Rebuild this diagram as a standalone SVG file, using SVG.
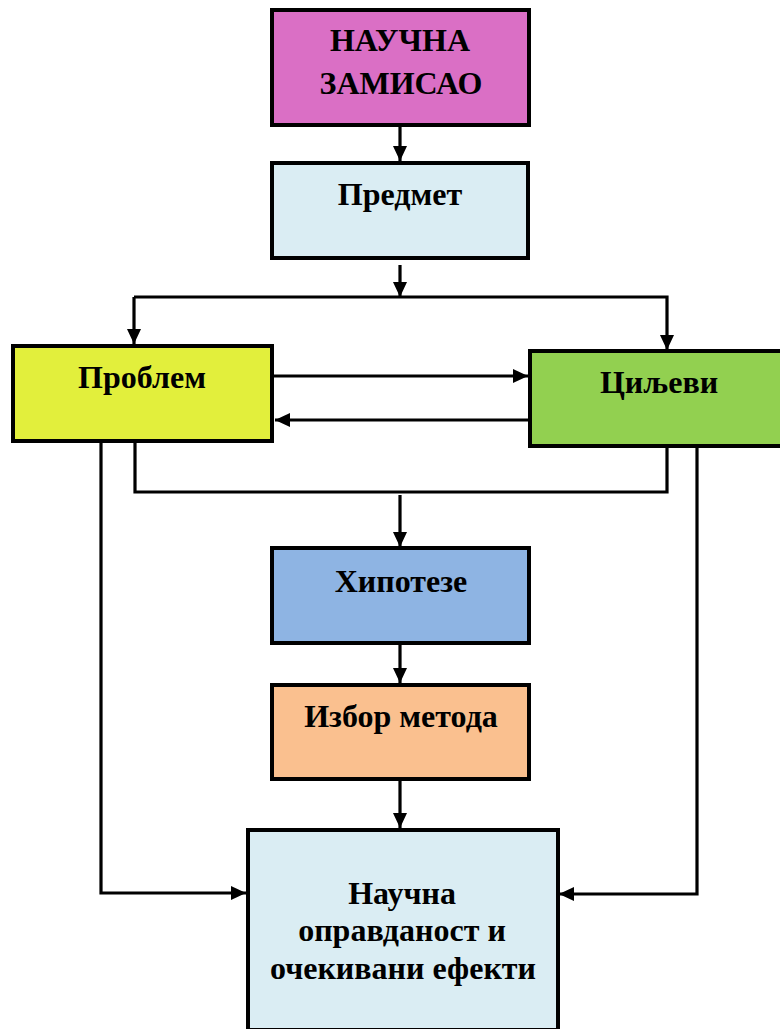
<svg xmlns="http://www.w3.org/2000/svg" width="780" height="1029" viewBox="0 0 780 1029">
<style>
.box{stroke:#000;stroke-width:4}
.t{font-family:"Liberation Serif","Times New Roman",serif;font-weight:bold;font-size:32px;fill:#000;text-anchor:middle}
.c{fill:none;stroke:#000;stroke-width:3.2}
</style>
<defs>
<marker id="ah" markerUnits="userSpaceOnUse" markerWidth="16" markerHeight="14" refX="15" refY="7" orient="auto">
<path d="M0,0 L15,7 L0,14 z" fill="#000"/>
</marker>
</defs>
<rect width="780" height="1029" fill="#fff"/>
<g id="connectors">
<path class="c" d="M400,127 V161" marker-end="url(#ah)"/>
<path class="c" d="M400,265 V297" marker-end="url(#ah)"/>
<path class="c" d="M134,297 H667 V350" marker-end="url(#ah)"/>
<path class="c" d="M134,297 V344" marker-end="url(#ah)"/>
<path class="c" d="M273,376 H528" marker-end="url(#ah)"/>
<path class="c" d="M530,420 H275" marker-end="url(#ah)"/>
<path class="c" d="M135,443 V492 H667 V448"/>
<path class="c" d="M400,495 V547" marker-end="url(#ah)"/>
<path class="c" d="M400,641 V683" marker-end="url(#ah)"/>
<path class="c" d="M400,780 V828" marker-end="url(#ah)"/>
<path class="c" d="M101,443 V893 H246" marker-end="url(#ah)"/>
<path class="c" d="M697,448 V894 H559" marker-end="url(#ah)"/>
</g>
<g id="node-zamisao">
<rect class="box" x="272" y="10" width="257" height="115" fill="#DA6FC5"/>
<text class="t" x="400" y="51">НАУЧНА</text>
<text class="t" x="401" y="94">ЗАМИСАО</text>
</g>
<g id="node-predmet">
<rect class="box" x="272" y="163" width="256" height="95" fill="#DAEDF3"/>
<text class="t" x="400" y="205">Предмет</text>
</g>
<g id="node-problem">
<rect class="box" x="13" y="346" width="259" height="95" fill="#E2EF3C"/>
<text class="t" x="142" y="388">Проблем</text>
</g>
<g id="node-ciljevi">
<rect class="box" x="530" y="351" width="260" height="95" fill="#92D050"/>
<text class="t" x="659" y="393">Циљеви</text>
</g>
<g id="node-hipoteze">
<rect class="box" x="272" y="548" width="257" height="95" fill="#8EB4E3"/>
<text class="t" x="401" y="592">Хипотезе</text>
</g>
<g id="node-metod">
<rect class="box" x="272" y="685" width="257" height="94" fill="#FAC08F"/>
<text class="t" x="401" y="727">Избор метода</text>
</g>
<g id="node-opravdanost">
<rect class="box" x="248" y="830" width="310" height="200" fill="#DAEDF3"/>
<text class="t" x="402" y="904">Научна</text>
<text class="t" x="402" y="941">оправданост и</text>
<text class="t" x="403" y="979">очекивани ефекти</text>
</g>
</svg>
